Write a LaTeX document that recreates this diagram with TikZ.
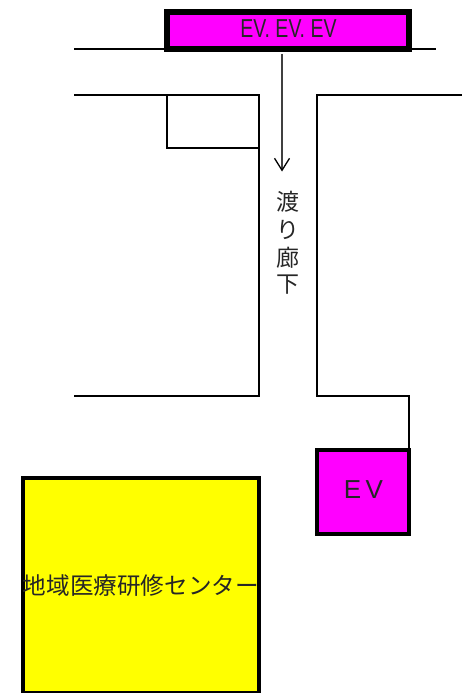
\documentclass[tikz,border=0pt]{standalone}
\usepackage{fontspec}
\usepackage{graphicx}
\usetikzlibrary{arrows.meta}
\newfontfamily\cjk{Noto Sans CJK JP}
\newfontfamily\lat{Liberation Sans}
\definecolor{mag}{RGB}{255,0,255}
\definecolor{yel}{RGB}{255,255,0}
\tikzset{
  wall/.style={draw=black,line width=2pt,line cap=butt,line join=miter},
  roombox/.style={draw=black,rectangle,inner sep=0pt,outer sep=0pt,anchor=north west},
  lab/.style={inner sep=0pt,text=black!85},
  vlab/.style={lab,font=\cjk\fontsize{23}{23}\selectfont},
}
\begin{document}
\begin{tikzpicture}[x=1pt,y=-1pt]
\useasboundingbox (0,0) rectangle (462,693);
\coordinate (a1) at (74,48.7);
\coordinate (a2) at (436,48.7);
\coordinate (b1) at (74,95.3);
\coordinate (b2) at (259.2,95.3);
\coordinate (b3) at (259.2,395.7);
\coordinate (b4) at (74,395.7);
\coordinate (c1) at (167,95.3);
\coordinate (c2) at (167,148);
\coordinate (c3) at (259.2,148);
\coordinate (d1) at (462,95.3);
\coordinate (d2) at (317.2,95.3);
\coordinate (d3) at (317.2,395.7);
\coordinate (d4) at (409,395.7);
\coordinate (d5) at (409,450);
\draw[wall] (a1) -- (a2);
\draw[wall] (b1) -- (b2) -- (b3) -- (b4);
\draw[wall] (c1) -- (c2) -- (c3);
\draw[wall] (d1) -- (d2) -- (d3) -- (d4) -- (d5);
\node[roombox,fill=mag,line width=6pt,minimum width=242pt,minimum height=37pt] (top) at (167,12) {};
\node[lab,font=\lat\fontsize{26}{26}\selectfont] (toplab) at (288.5,29) {\scalebox{0.75}[1]{EV. EV. EV}};
\coordinate (arrs) at (282,54);
\coordinate (arre) at (282,171.5);
\draw[line width=1.5pt,black!75,-{Straight Barb[length=12pt,width=15pt,line width=1.3pt,black]}] (arrs) -- (arre);
\node[vlab] (v1) at (288,202) {渡};
\node[vlab] (v2) at (288,230) {り};
\node[vlab] (v3) at (288,258) {廊};
\node[vlab] (v4) at (288,285) {下};
\node[roombox,fill=mag,line width=4pt,minimum width=92pt,minimum height=84pt] (ev) at (317,450) {};
\node[lab,font=\lat\fontsize{26}{26}\selectfont] (evlab) at (363.5,490) {E\,V};
\node[roombox,fill=yel,line width=4pt,minimum width=235.7pt,minimum height=214.5pt] (ctr) at (23,478) {};
\node[lab,font=\cjk\fontsize{23.6}{23.6}\selectfont] (ctrlab) at (141,586) {地域医療研修センター};
\end{tikzpicture}
\end{document}
